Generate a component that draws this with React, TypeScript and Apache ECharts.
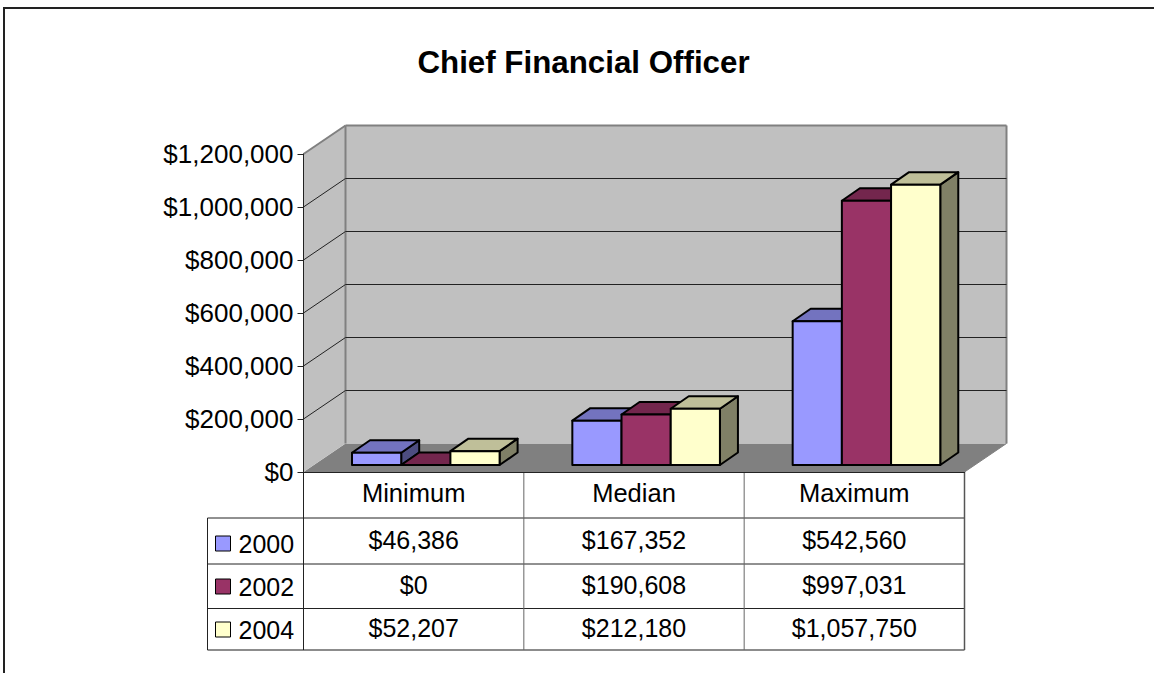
import React, { useEffect, useRef } from "react";
import * as echarts from "echarts";

const titleText = "Chief Financial Officer";
const categories = ["Minimum", "Median", "Maximum"];
const years = ["2000", "2002", "2004"];
const values2000 = [46386, 167352, 542560];
const values2002 = [0, 190608, 997031];
const values2004 = [52207, 212180, 1057750];
const yTicks = [0, 200000, 400000, 600000, 800000, 1000000, 1200000];
const fills = ["#9999FF", "#993366", "#FFFFCC"];
const tops = ["#7373BF", "#73264D", "#BFBF99"];
const sides = ["#4D4D80", "#4D1A33", "#808066"];

const money = (v: number) => "$" + v.toLocaleString("en-US");
const FONT = "'Liberation Sans', Arial, sans-serif";
const GRID = { left: 303.5, right: 964.5, top: 154, bottom: 472 };
const DEPTH = { x: 42, y: -28.5 };
const BAR = { x: 48.5, w: 49.2, fx: 10, fy: -7, dx: 18, dy: -12.5 };
const ROWS = [518, 564, 608.5, 650];
const TABLE_LEFT = 207.5;

function App() {
  const ref = useRef<HTMLDivElement>(null);
  useEffect(() => {
    const chart = echarts.init(ref.current!, undefined, { renderer: "svg" });
    const seriesValues = [values2000, values2002, values2004];
    const line = (x1: number, y1: number, x2: number, y2: number, stroke: string, w = 1) => ({
      type: "line",
      shape: { x1, y1, x2, y2 },
      style: { stroke, lineWidth: w },
      silent: true,
    });

    const wallSeries = {
      type: "custom",
      coordinateSystem: "cartesian2d",
      silent: true,
      z: 1,
      legendHoverLink: false,
      data: yTicks.map((t) => [0, t]),
      renderItem: (params: any, api: any) => {
        const tick = api.value(1);
        const y = api.coord([0, tick])[1];
        const x0 = GRID.left;
        const x1 = GRID.right;
        const b = GRID.bottom;
        const t = GRID.top;
        const d = DEPTH;
        const children: any[] = [];
        if (tick === 0) {
          children.push(
            { type: "polygon", shape: { points: [[x0, b], [x0 + d.x, b + d.y], [x1 + d.x, b + d.y], [x1, b]] }, style: { fill: "#808080", stroke: "none" } },
            { type: "polygon", shape: { points: [[x0, b], [x0, t], [x0 + d.x, t + d.y], [x0 + d.x, b + d.y]] }, style: { fill: "#C0C0C0", stroke: "none" } },
            { type: "rect", shape: { x: x0 + d.x, y: t + d.y, width: x1 - x0, height: b - t }, style: { fill: "#C0C0C0", stroke: "none" } },
            line(x0, t, x0 + d.x, t + d.y, "#808080", 2),
            line(x0 + d.x, t + d.y, x1 + d.x, t + d.y, "#808080", 2),
            line(x0 + d.x, t + d.y, x0 + d.x, b + d.y, "#808080", 2),
            line(x1 + d.x, t + d.y, x1 + d.x, b + d.y, "#808080", 2),
            line(x1, b, x1 + d.x, b + d.y, "#808080", 1)
          );
        } else if (tick < yTicks[yTicks.length - 1]) {
          children.push(
            line(x0, y, x0 + d.x, y + d.y, "#222222", 1),
            line(x0 + d.x, y + d.y, x1 + d.x, y + d.y, "#222222", 1)
          );
        }
        return { type: "group", children };
      },
    };

    const barSeries = years.map((name, si) => ({
      name,
      type: "custom",
      coordinateSystem: "cartesian2d",
      z: 2 + si,
      itemStyle: { color: fills[si] },
      data: seriesValues[si].map((v, i) => [i, v]),
      renderItem: (params: any, api: any) => {
        const idx = api.value(0);
        const band = api.size([1, 0])[0];
        const centre = api.coord([idx, 0]);
        const yTop = api.coord([idx, api.value(1)])[1] + BAR.fy;
        const yBase = centre[1] + BAR.fy;
        const left = centre[0] - band / 2 + BAR.x + si * BAR.w;
        const right = left + BAR.w;
        const stroke = { stroke: "#000", lineWidth: 2, lineJoin: "round" };
        return {
          type: "group",
          children: [
            { type: "polygon", shape: { points: [[right, yBase], [right + BAR.dx, yBase + BAR.dy], [right + BAR.dx, yTop + BAR.dy], [right, yTop]] }, style: { fill: sides[si], ...stroke } },
            { type: "polygon", shape: { points: [[left, yTop], [left + BAR.dx, yTop + BAR.dy], [right + BAR.dx, yTop + BAR.dy], [right, yTop]] }, style: { fill: tops[si], ...stroke } },
            { type: "rect", shape: { x: left, y: yTop, width: BAR.w, height: yBase - yTop }, style: { fill: fills[si], ...stroke } },
          ],
        };
      },
    }));

    const band = (GRID.right - GRID.left) / categories.length;
    const tableLines: any[] = [];
    ROWS.forEach((y, i) =>
      tableLines.push(line(TABLE_LEFT, y, GRID.right, y, i === ROWS.length - 1 ? "#666666" : "#222222", i === ROWS.length - 1 ? 1.5 : 1))
    );
    tableLines.push(line(TABLE_LEFT, ROWS[0], TABLE_LEFT, ROWS[3], "#222222", 1));
    tableLines.push(line(GRID.left, GRID.bottom, GRID.left, ROWS[3], "#222222", 1));
    categories.forEach((_, i) => {
      if (i > 0) tableLines.push(line(GRID.left + band * i, GRID.bottom, GRID.left + band * i, ROWS[3], "#666666", 1));
    });
    tableLines.push(line(GRID.right, GRID.bottom, GRID.right, ROWS[3], "#555555", 1.5));

    const tableTexts: any[] = [];
    seriesValues.forEach((vals, r) => {
      vals.forEach((v, c) => {
        tableTexts.push({
          type: "text",
          x: GRID.left + band * (c + 0.5),
          y: (ROWS[r] + ROWS[r + 1]) / 2 - 1.5,
          style: { text: money(v), font: `25px ${FONT}`, fill: "#000", align: "center", verticalAlign: "middle" },
          silent: true,
        });
      });
    });

    chart.setOption({
      animation: false,
      backgroundColor: "#FFFFFF",
      title: {
        text: titleText,
        left: 583.5,
        top: 47,
        padding: 0,
        textAlign: "center",
        textStyle: { fontFamily: FONT, fontWeight: "bold", fontSize: 31.3, color: "#000" },
      },
      legend: {
        data: years,
        orient: "vertical",
        left: 215,
        top: 531,
        itemWidth: 15,
        itemHeight: 15,
        itemGap: 18,
        padding: 0,
        icon: "rect",
        selectedMode: false,
        itemStyle: { borderColor: "#000", borderWidth: 1 },
        textStyle: { fontFamily: FONT, fontSize: 25, color: "#000", padding: [0, 0, 0, 3] },
      },
      grid: { left: GRID.left, top: GRID.top, width: GRID.right - GRID.left, height: GRID.bottom - GRID.top },
      xAxis: {
        type: "category",
        data: categories,
        axisLine: { show: true, lineStyle: { color: "#222222", width: 1 } },
        axisTick: { show: false },
        splitLine: { show: false },
        axisLabel: { fontFamily: FONT, fontSize: 25.5, color: "#000", margin: 8 },
        z: 10,
      },
      yAxis: {
        type: "value",
        min: 0,
        max: 1200000,
        interval: 200000,
        axisLine: { show: true, lineStyle: { color: "#222222", width: 1 } },
        axisTick: { show: true, length: 6, lineStyle: { color: "#222222", width: 1 } },
        splitLine: { show: false },
        axisLabel: { fontFamily: FONT, fontSize: 26, color: "#000", margin: 10, formatter: (v: number) => money(v) },
        z: 10,
      },
      series: [wallSeries, ...barSeries],
      graphic: [
        { type: "rect", shape: { x: 4, y: 8, width: 1300, height: 800 }, style: { fill: "none", stroke: "#222222", lineWidth: 2 }, silent: true, z: 0 },
        ...tableLines,
        ...tableTexts,
      ],
    });
    return () => chart.dispose();
  }, []);
  return <div ref={ref} style={{ position: "fixed", left: 0, top: 0, width: 1154, height: 673 }} />;
}

export default App;
